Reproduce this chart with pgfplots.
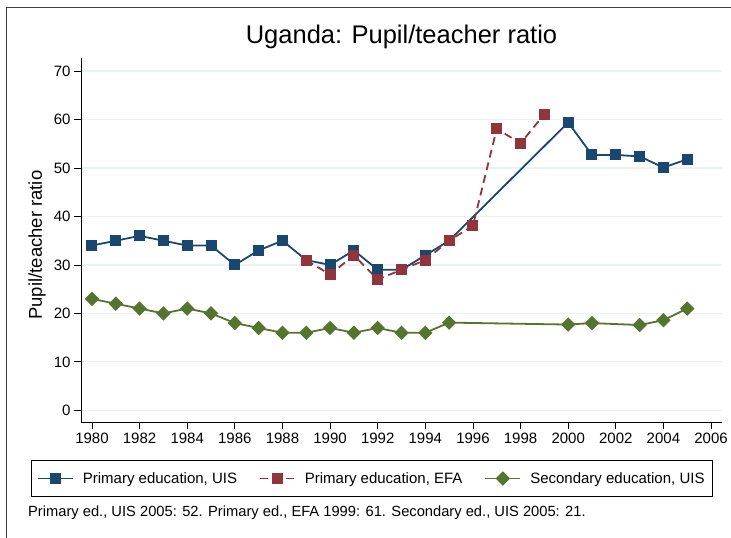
\documentclass[border=0pt]{standalone}
\usepackage{fontspec}
\setmainfont{Liberation Sans}
\usepackage{pgfplots}
\pgfplotsset{compat=1.18}

\definecolor{uisblue}{RGB}{26,71,111}
\definecolor{efared}{RGB}{144,53,59}
\definecolor{secgreen}{RGB}{85,117,47}
\definecolor{gridc}{RGB}{234,242,243}

\begin{document}
\begin{tikzpicture}[x=1pt,y=1pt]
\useasboundingbox (0,0) rectangle (731,538);
% outer frame (only top and left edges are visible)
\draw[black!75, line width=0.8pt] (6.7,-2) -- (6.7,531) -- (733,531);

\begin{axis}[
    at={(81pt,115.7pt)},
    anchor=south west,
    scale only axis,
    width=641pt,
    height=363.8pt,
    xmin=1979.54, xmax=2006.46,
    ymin=-2.47, ymax=72.6,
    axis x line*=bottom,
    axis y line*=left,
    axis line style={-, black, line width=0.8pt},
    xtick={1980,1982,...,2006},
    ytick={0,10,...,70},
    tick align=outside,
    major tick length=7pt,
    tick style={black, line width=0.8pt},
    ymajorgrids,
    grid style={gridc, line width=1.2pt},
    /pgf/number format/assume math mode=true,
    /pgf/number format/1000 sep={},
    ticklabel style={font=\fontsize{15}{18}\selectfont},
    title={Uganda: Pupil/teacher ratio},
    title style={at={(axis description cs:0.5,1.0234)}, anchor=base,
                 font=\fontsize{25.5}{30}\selectfont},
    ylabel={Pupil/teacher ratio},
    every axis y label/.style={at={(axis description cs:-0.0686,0.487)},
                 rotate=90, anchor=center, font=\fontsize{18.5}{22}\selectfont},
    legend columns=3,
    legend cell align=left,
    legend image code/.code={%
        \draw[mark repeat=2, mark phase=2, #1]
            plot coordinates {(0pt,0pt) (17.5pt,0pt) (35pt,0pt)};},
    legend style={
        at={(axis description cs:-0.0785,-0.1036)},
        anchor=north west,
        draw=black, line width=0.8pt,
        font=\fontsize{15}{18}\selectfont,
        inner xsep=6pt, inner ysep=10pt,
        /tikz/every odd column/.append style={column sep=7pt},
        /tikz/every even column/.append style={column sep=20pt},
    },
    clip=false,
]

% Primary education, UIS
\addplot[uisblue, line width=1.8pt, mark=square*, mark size=4.6pt,
         mark options={solid}]
coordinates {
(1980,34) (1981,35) (1982,36) (1983,35) (1984,34) (1985,34)
(1986,30) (1987,33) (1988,35) (1989,31) (1990,30) (1991,33)
(1992,29) (1993,29) (1994,32) (1995,35)
(2000,59.4) (2001,52.7) (2002,52.7) (2003,52.4) (2004,50.1) (2005,51.8)
};
\addlegendentry{Primary education, UIS}

% Primary education, EFA
\addplot[efared, line width=1.8pt, dash pattern=on 8pt off 5pt,
         mark=square*, mark size=4.6pt, mark options={solid}]
coordinates {
(1989,31) (1990,28) (1991,32) (1992,27) (1993,29) (1994,31)
(1995,35) (1996,38.1) (1997,58.1) (1998,55.1) (1999,61.1)
};
\addlegendentry{Primary education, EFA}

% Secondary education, UIS
\addplot[secgreen, line width=1.8pt, mark=square*, mark size=4.2pt,
         mark options={solid, rotate=45}]
coordinates {
(1980,23) (1981,22) (1982,21) (1983,20) (1984,21) (1985,20)
(1986,18) (1987,17) (1988,16) (1989,16) (1990,17) (1991,16)
(1992,17) (1993,16) (1994,16) (1995,18.1)
(2000,17.7) (2001,18) (2003,17.6) (2004,18.6) (2005,21)
};
\addlegendentry{Secondary education, UIS}

\node[anchor=base west, inner sep=0pt, font=\fontsize{14.7}{18}\selectfont]
  at (axis description cs:-0.0827,-0.2576)
  {Primary ed., UIS 2005: 52. Primary ed., EFA 1999: 61. Secondary ed., UIS 2005: 21.};

\end{axis}
\end{tikzpicture}
\end{document}
